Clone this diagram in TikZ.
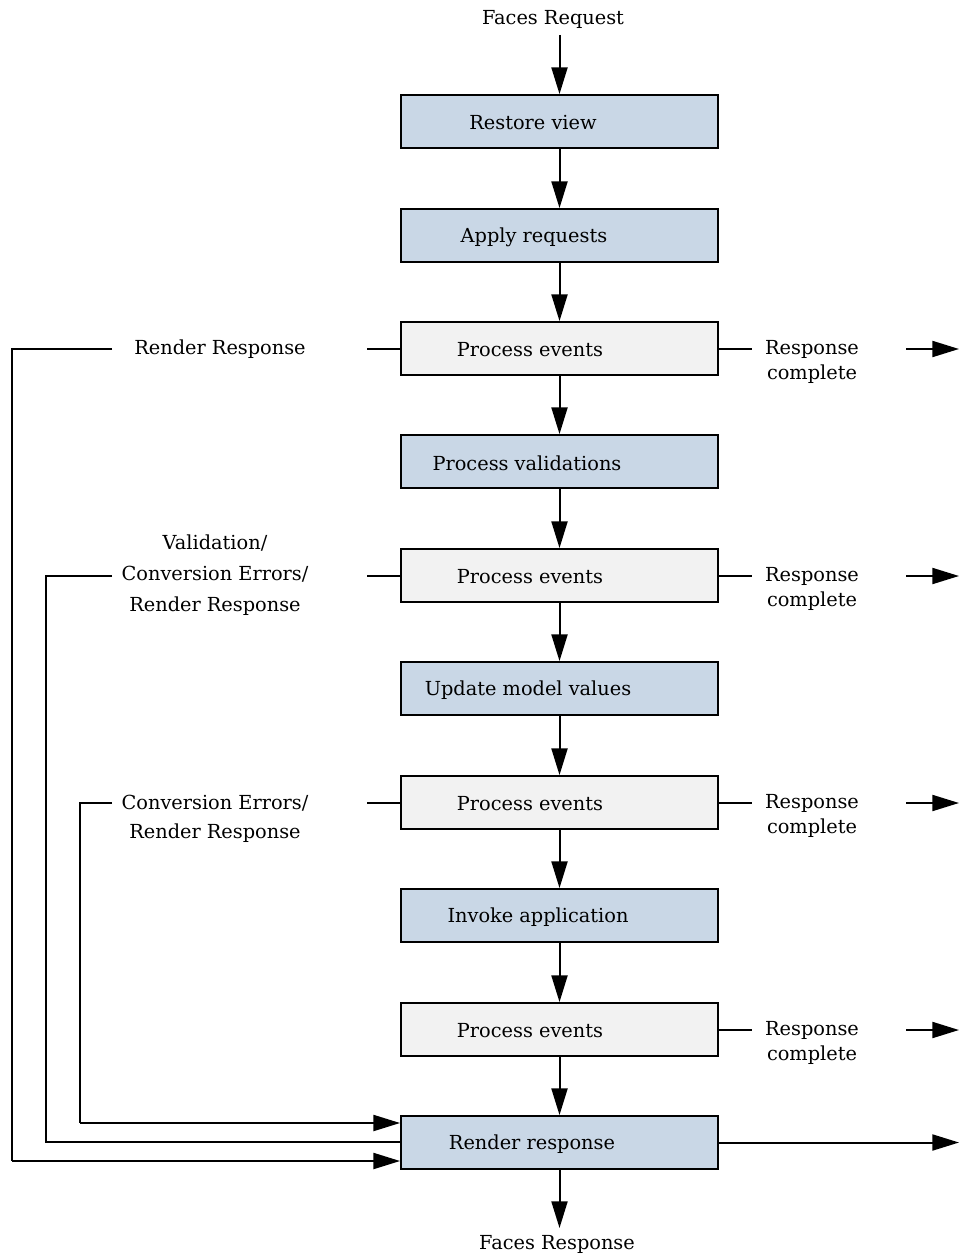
\documentclass[tikz,border=0pt]{standalone}
\usepackage{fontspec}
\setmainfont{DejaVu Serif}
\usetikzlibrary{arrows.meta}
\definecolor{boxblue}{RGB}{201,215,230}
\definecolor{boxgrey}{RGB}{242,242,242}
\begin{document}
\begin{tikzpicture}[x=0.75pt,y=-0.75pt,
  phase/.style={draw=black,line width=1.4pt,fill=boxblue,minimum width=237.75pt,minimum height=39.75pt,inner sep=0pt},
  evt/.style={phase,fill=boxgrey},
  txt/.style={font=\fontsize{14.5pt}{22pt}\selectfont,inner sep=0pt,align=center},
  rc/.style={txt,font=\fontsize{14.5pt}{18.75pt}\selectfont},
  conn/.style={line width=1.5pt},
  arr/.style={conn,-{Triangle[length=20pt,width=12pt]}}]
\useasboundingbox (0,0) rectangle (959,1256);
% boxes
\node[phase] (b1) at (559.5,121.5) {};
\node[phase] (b2) at (559.5,235.5) {};
\node[evt]   (b3) at (559.5,348.5) {};
\node[phase] (b4) at (559.5,461.5) {};
\node[evt]   (b5) at (559.5,575.5) {};
\node[phase] (b6) at (559.5,688.5) {};
\node[evt]   (b7) at (559.5,802.5) {};
\node[phase] (b8) at (559.5,915.5) {};
\node[evt]   (b9) at (559.5,1029.5) {};
\node[phase] (b10) at (559.5,1142.5) {};
% box texts
\node[txt] (t1) at (533,123) {Restore view};
\node[txt] (t2) at (534,237) {Apply requests};
\node[txt] (t3) at (530,350) {Process events};
\node[txt] (t4) at (527,463) {Process validations};
\node[txt] (t5) at (530,577) {Process events};
\node[txt] (t6) at (528,690) {Update model values};
\node[txt] (t7) at (530,804) {Process events};
\node[txt] (t8) at (538,917) {Invoke application};
\node[txt] (t9) at (530,1031) {Process events};
\node[txt] (t10) at (532,1144) {Render response};
% request / response
\node[txt] (req) at (553,19) {Faces Request};
\node[txt] (resp) at (557,1244) {Faces Response};
\coordinate (reqe) at (559.5,35);
\coordinate (respe) at (559.5,1228);
\draw[arr] (reqe) -- (b1.north);
\draw[arr] (b1.south) -- (b2.north);
\draw[arr] (b2.south) -- (b3.north);
\draw[arr] (b3.south) -- (b4.north);
\draw[arr] (b4.south) -- (b5.north);
\draw[arr] (b5.south) -- (b6.north);
\draw[arr] (b6.south) -- (b7.north);
\draw[arr] (b7.south) -- (b8.north);
\draw[arr] (b8.south) -- (b9.north);
\draw[arr] (b9.south) -- (b10.north);
\draw[arr] (b10.south) -- (respe);
% right side
\foreach \b/\y in {b3/349,b5/576,b7/803,b9/1030}{
  \coordinate (\b ra) at (752,\y);
  \coordinate (\b rb) at (906,\y);
  \coordinate (\b rc) at (959,\y);
  \node[rc] (\b rt) at (812,\y+13) {Response\\complete};
  \draw[conn] (\b.east |- 0,\y) -- (\b ra);
  \draw[arr] (\b rb) -- (\b rc);
}
\coordinate (b10rc) at (959,1142.5);
\draw[arr] (b10.east) -- (b10rc);
% left side
\foreach \b/\y in {b3/349,b5/576,b7/803}{
  \coordinate (\b la) at (367,\y);
  \draw[conn] (\b.west |- 0,\y) -- (\b la);
}
\node[txt] (l1) at (220,349) {Render Response};
\node[txt,font=\fontsize{14.5pt}{23pt}\selectfont] (l2) at (215,575) {Validation/\\Conversion Errors/\\Render Response};
\node[txt] (l3) at (215,819) {Conversion Errors/\\Render Response};
\coordinate (l1a) at (112,349);
\coordinate (l1b) at (12,349);
\coordinate (l1c) at (12,1161);
\coordinate (l2a) at (112,576);
\coordinate (l2b) at (46,576);
\coordinate (l2c) at (46,1142);
\coordinate (l3a) at (112,803);
\coordinate (l3b) at (80,803);
\coordinate (l3c) at (80,1123);
\draw[conn] (l1a) -- (l1b) -- (l1c);
\draw[arr] (l1c) -- (b10.west |- l1c);
\draw[conn] (l2a) -- (l2b) -- (l2c) -- (b10.west |- l2c);
\draw[conn] (l3a) -- (l3b) -- (l3c);
\draw[arr] (l3c) -- (b10.west |- l3c);
\end{tikzpicture}
\end{document}
